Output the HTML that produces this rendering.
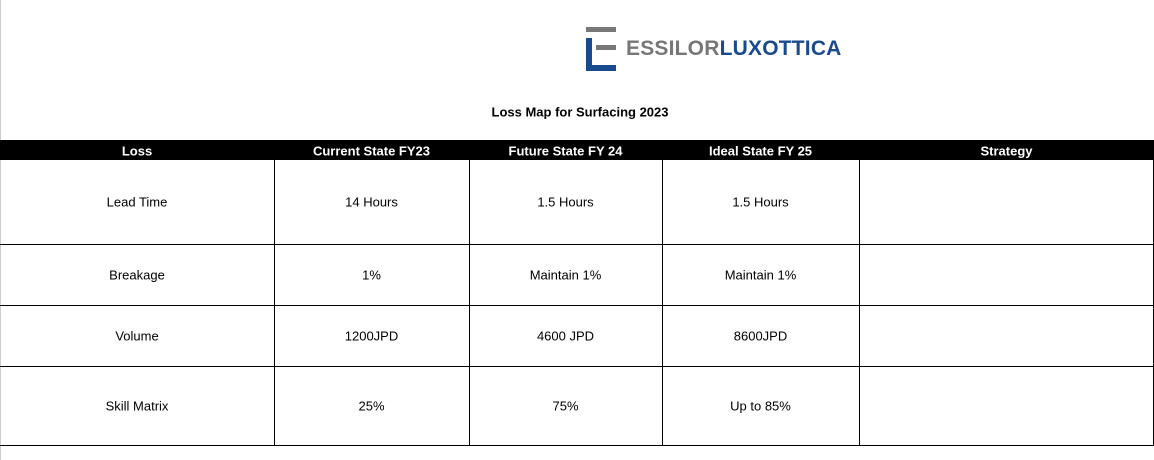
<!DOCTYPE html>
<html><head><meta charset="utf-8"><style>
body{margin:0;width:1154px;height:460px;background:#fff;position:relative;overflow:hidden;font-family:"Liberation Sans",sans-serif;}
.a{position:absolute;}
.t{position:absolute;font-size:13px;color:#000;text-align:center;transform:translateY(-50%);}
.h{color:#fff;font-weight:bold;}
.vl{position:absolute;width:1px;background:#000;top:160px;height:285px;}
.hl{position:absolute;height:1px;background:#000;left:0;width:1154px;}
</style></head><body>
<div class="a" style="left:0;top:0;width:1px;height:460px;background:#ccc"></div>
<div class="a" style="left:586px;top:27px;width:260px;height:44px">
 <div class="a" style="left:0;top:0;width:30px;height:5px;background:#777"></div>
 <div class="a" style="left:0;top:11px;width:6px;height:33px;background:#1a4a8e"></div>
 <div class="a" style="left:0;top:38px;width:30px;height:6px;background:#1a4a8e"></div>
 <div class="a" style="left:10px;top:18px;width:20px;height:5px;background:#777"></div>
 <div class="a" style="left:40px;top:9px;font-size:21px;font-weight:bold;letter-spacing:0.2px;line-height:26px;white-space:nowrap"><span style="color:#777">ESSILOR</span><span style="color:#1a4a8e">LUXOTTICA</span></div>
</div>
<div class="t" style="left:440px;width:280px;top:112px;font-weight:bold;font-size:13px">Loss Map for Surfacing 2023</div>
<div class="a" style="left:0;top:140px;width:1154px;height:20px;background:#000"></div>
<div class="t h" style="left:0;width:274px;top:151px">Loss</div>
<div class="t h" style="left:274px;width:195px;top:151px">Current State FY23</div>
<div class="t h" style="left:469px;width:193px;top:151px">Future State FY 24</div>
<div class="t h" style="left:662px;width:197px;top:151px">Ideal State FY 25</div>
<div class="t h" style="left:859px;width:295px;top:151px">Strategy</div>
<div class="vl" style="left:274px"></div><div class="vl" style="left:469px"></div><div class="vl" style="left:662px"></div><div class="vl" style="left:859px"></div><div class="vl" style="left:1153px"></div>
<div class="hl" style="top:244px"></div><div class="hl" style="top:305px"></div><div class="hl" style="top:366px"></div><div class="hl" style="top:445px"></div>
<div>
<div class="t" style="left:0;width:274px;top:202px">Lead Time</div><div class="t" style="left:274px;width:195px;top:202px">14 Hours</div><div class="t" style="left:469px;width:193px;top:202px">1.5 Hours</div><div class="t" style="left:662px;width:197px;top:202px">1.5 Hours</div></div>
<div>
<div class="t" style="left:0;width:274px;top:275px">Breakage</div><div class="t" style="left:274px;width:195px;top:275px">1%</div><div class="t" style="left:469px;width:193px;top:275px">Maintain 1%</div><div class="t" style="left:662px;width:197px;top:275px">Maintain 1%</div></div>
<div>
<div class="t" style="left:0;width:274px;top:336px">Volume</div><div class="t" style="left:274px;width:195px;top:336px">1200JPD</div><div class="t" style="left:469px;width:193px;top:336px">4600 JPD</div><div class="t" style="left:662px;width:197px;top:336px">8600JPD</div></div>
<div>
<div class="t" style="left:0;width:274px;top:406px">Skill Matrix</div><div class="t" style="left:274px;width:195px;top:406px">25%</div><div class="t" style="left:469px;width:193px;top:406px">75%</div><div class="t" style="left:662px;width:197px;top:406px">Up to 85%</div></div>
</body></html>
